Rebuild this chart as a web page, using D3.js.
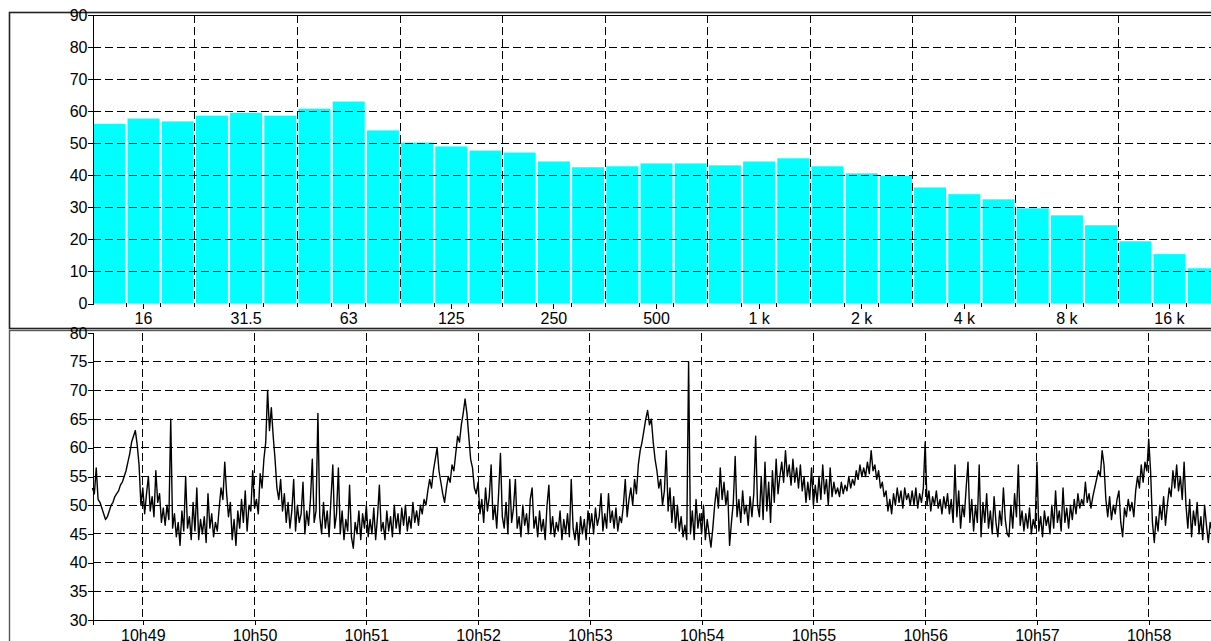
<!DOCTYPE html>
<meta charset="utf-8">
<script src="https://d3js.org/d3.v7.min.js"></script>
<style>
  body { margin: 0; background: #fff; }
  svg text { font-family: "Liberation Sans", Arial, sans-serif; }
</style>
<div id="my_dataviz"></div>
<script>

// third-octave bands (labels as printed on the axis)
var bands = ["12.5", "16", "20", "25", "31.5", "40", "50", "63", "80", "100", "125", "160",
             "200", "250", "315", "400", "500", "630", "800", "1 k", "1.25 k", "1.6 k", "2 k",
             "2.5 k", "3.15 k", "4 k", "5 k", "6.3 k", "8 k", "10 k", "12.5 k", "16 k", "20 k"];

// band levels (dB)
var bandLevels = [56, 57.7, 56.8, 58.6, 59.5, 58.6, 60.8, 63, 54, 50.2, 49, 47.7, 47.1,
                  44.3, 42.5, 42.8, 43.7, 43.7, 43.1, 44.3, 45.3, 42.8, 40.6, 39.8, 36.2,
                  34.1, 32.5, 29.7, 27.5, 24.4, 19.4, 15.4, 11];

var spectrumTicks = [0, 10, 20, 30, 40, 50, 60, 70, 80, 90];
var levelTicks = [30, 35, 40, 45, 50, 55, 60, 65, 70, 75, 80];

// time history, one value per second from 10:48:33
var timeStart = new Date(2000, 0, 1, 10, 48, 33);
var timeEnd = new Date(2000, 0, 1, 10, 58, 38);
var sampleStep = 1;
var levels = [
  53, 52, 56.5, 51, 50.5, 49.5, 48.5, 47.5, 48, 49, 50, 50.5, 51.5, 52, 52.5, 53.5, 54, 55, 56, 57.5,
  59, 61, 62, 63, 60.5, 57, 50, 53, 48.5, 52, 55, 49, 51.5, 48, 56, 50.5, 52, 47, 49.5, 46.5,
  50, 47.5, 65, 46, 48.5, 44.5, 47, 43, 49, 45.5, 55, 46, 48, 44, 50.5, 45.5, 53, 44, 47.5, 45,
  48, 43.5, 52, 46, 48.5, 44.5, 47, 45.5, 49.5, 53, 51, 57.5, 52, 48, 50.5, 44, 47.5, 43, 49, 46,
  51, 47, 52.5, 45.5, 50, 49, 56, 49.5, 51, 48.5, 55.5, 53, 58, 61, 70, 63, 67, 62, 58, 53,
  // 10h50m13
  51, 54.5, 49, 52, 47, 50.5, 46, 49, 54.5, 45.5, 50, 47, 48.5, 54, 45, 49, 46.5, 51, 58, 47,
  49, 66, 48, 45, 50.5, 46, 49, 44.5, 51, 57, 46, 48.5, 56.5, 45, 49, 44, 47.5, 45.5, 53.5, 44.5,
  42.5, 47, 45, 49, 44, 48.5, 46, 50, 44.5, 47.5, 45, 49.5, 44, 48, 53.5, 45.5, 47, 44, 49, 45.5,
  48, 44.5, 50, 46, 48.5, 45, 49.5, 46.5, 50, 45.5, 48, 46, 50.5, 47, 49, 46.5, 50, 48.5, 51, 50,
  52.5, 54.5, 53, 56, 58, 60, 56, 54, 52, 50.5, 53, 55, 54, 57, 56, 59, 62, 61, 64, 66,
  // 10h51m53
  68.5, 66, 62, 58, 56.5, 53, 52, 54, 48.5, 51, 47, 53, 49, 51.5, 57, 47.5, 50, 46, 52, 59,
  48, 46, 50.5, 45, 54.5, 47, 49.5, 54.5, 46, 48, 44.5, 50, 46.5, 48.5, 45, 51, 53, 46, 48, 44.5,
  49, 45.5, 47.5, 44, 50, 53.5, 45, 48, 44.5, 47, 45.5, 49, 44, 47.5, 45, 48.5, 44.5, 54.5, 46, 44,
  47, 43, 48, 45, 47.5, 44, 49, 46, 48.5, 45, 49.5, 46.5, 48, 52, 45.5, 48.5, 46, 52, 47, 49,
  46, 49.5, 45.5, 48, 47, 50, 54.5, 48, 51, 53, 50, 54.5, 52, 57, 59.5, 61, 63, 65, 66.5, 64,
  // 10h53m33
  65, 61, 58, 56, 53, 54.5, 50, 52.5, 59.5, 49, 53, 47, 51.5, 46, 50, 45.5, 48, 44.5, 46.5, 44,
  75, 45, 49, 44, 51, 46, 48.5, 45, 50, 44, 47.5, 45, 42.7, 46, 50, 53, 49.5, 56.5, 51, 54,
  50, 52.5, 43, 47, 50.5, 58.5, 48, 51, 47, 52.5, 48.5, 50, 46.5, 51.5, 48, 52, 62, 50, 48, 55,
  47.5, 57.5, 49, 54, 47, 56, 50.5, 58, 52, 55, 57.5, 54, 59.5, 55, 57, 53.5, 58, 54, 56.5, 53,
  57, 52.5, 55, 50.5, 54, 51, 56.5, 50, 53.5, 50.5, 55, 51, 57, 52, 54.5, 50, 56.5, 51.5, 54, 52,
  // 10h55m13
  53, 51.5, 54, 52, 53.5, 52.5, 55, 53, 54.5, 53.5, 56, 54.5, 57, 55, 56.5, 55, 57.5, 55.5, 59.5, 56,
  57, 54.5, 56, 53, 54, 51.5, 52.5, 49, 51, 48.5, 52, 50, 53, 50.5, 52.5, 49.5, 53, 51, 52, 50,
  52.5, 50, 53, 49.5, 52, 50.5, 53, 61, 50, 52.5, 49, 51.5, 50, 52.5, 49.5, 51, 48.5, 51.5, 49.5, 52,
  48.5, 51, 47, 57, 48, 52.5, 46, 50, 48, 53, 57.5, 47, 51, 45.5, 50, 47, 57, 44.5, 50.5, 47,
  52, 46, 49, 45, 51.5, 47, 44.5, 49, 46.5, 53, 47.5, 45, 44.5, 50, 46, 52, 48, 57, 46.5, 49,
  // 10h56m53
  45.5, 48.5, 46, 49.5, 45, 47.5, 46, 57.5, 45.5, 48, 44.5, 49, 46.5, 48, 45, 50, 46, 52.5, 47, 49,
  45.5, 53, 47, 49.5, 46, 50, 47.5, 51, 48.5, 52, 49.5, 51, 50, 54, 50.5, 52, 49.5, 51.5, 53, 54.5,
  56, 55, 59.5, 57, 51, 48, 51.5, 47.5, 50, 48.5, 51, 52.5, 47, 44.5, 49.5, 48, 51, 49, 50.5, 48,
  52.5, 55, 53, 57, 54, 57.5, 56, 61.5, 56, 47, 43.5, 48, 45.5, 50, 47.5, 51.5, 46.5, 50, 53, 51.5,
  56, 53, 57, 52.5, 55, 51, 57.5, 50, 46, 51, 44.5, 49, 46.5, 50.5, 45, 48, 44, 50, 46.5, 43.5,
  47, 45.5, 49, 44.5, 47.5, 45
];

var width = 1211, height = 641;
var plotLeft = 92.5, plotRight = 1219.5;

var svg = d3.select("#my_dataviz")
  .append("svg")
    .attr("width", width)
    .attr("height", height)
    .style("display", "block");

// panel frames
svg.append("rect")
  .attr("x", 9.5).attr("y", 12.5)
  .attr("width", 1300).attr("height", 316)
  .attr("fill", "none").attr("stroke", "#222").attr("stroke-width", 1.6);
svg.append("rect")
  .attr("x", 9.5).attr("y", 330.5)
  .attr("width", 1300).attr("height", 400)
  .attr("fill", "none").attr("stroke", "#555").attr("stroke-width", 1.4);

function dashed(sel) {
  sel.attr("stroke", "#000")
    .attr("stroke-width", 1)
    .attr("stroke-dasharray", "8,4")
    .attr("shape-rendering", "crispEdges");
}

// ---------- spectrum ----------
var x = d3.scaleBand()
  .domain(bands)
  .range([93.3, 1219.7])
  .paddingInner(0.064)
  .paddingOuter(0);

var y = d3.scaleLinear()
  .domain([0, 90])
  .range([303.5, 15]);

var gap = x.step() - x.bandwidth();
function boundary(k) { return x(bands[0]) + k * x.step() - gap / 2; }

svg.append("g")
  .selectAll("rect")
  .data(bandLevels)
  .join("rect")
    .attr("x", function (d, i) { return x(bands[i]); })
    .attr("y", function (d) { return y(d); })
    .attr("width", x.bandwidth())
    .attr("height", function (d) { return y(0) - y(d); })
    .attr("fill", "#00ffff");

// grid
svg.append("g")
  .selectAll("line")
  .data(spectrumTicks.filter(function (d) { return d > 0 && d < 90; }))
  .join("line")
    .attr("x1", plotLeft).attr("x2", plotRight)
    .attr("y1", function (d) { return y(d); })
    .attr("y2", function (d) { return y(d); })
    .call(dashed);

svg.append("g")
  .selectAll("line")
  .data(d3.range(3, 33, 3))
  .join("line")
    .attr("x1", function (k) { return boundary(k); })
    .attr("x2", function (k) { return boundary(k); })
    .attr("y1", y(90)).attr("y2", y(0))
    .call(dashed);

// small marks at each band edge
svg.append("g")
  .selectAll("line")
  .data(d3.range(1, 33))
  .join("line")
    .attr("x1", function (k) { return boundary(k); })
    .attr("x2", function (k) { return boundary(k); })
    .attr("y1", y(0) - 1).attr("y2", y(0) + 3)
    .attr("stroke", "#000")
    .attr("shape-rendering", "crispEdges");

// plot top border
svg.append("line")
  .attr("x1", plotLeft).attr("x2", 1300)
  .attr("y1", 15).attr("y2", 15)
  .attr("stroke", "#000").attr("shape-rendering", "crispEdges");

svg.append("g")
  .attr("transform", "translate(" + plotLeft + ",0)")
  .call(d3.axisLeft(y).tickValues(spectrumTicks).tickSize(5).tickPadding(0));

var xAxis = svg.append("g")
  .attr("transform", "translate(0," + y(0) + ")")
  .call(d3.axisBottom(x)
    .tickValues(bands.filter(function (b, i) { return i % 3 == 1; }))
    .tickSize(5).tickPadding(4));
xAxis.select(".domain").remove();

// ---------- time history ----------
var t = d3.scaleTime()
  .domain([timeStart, timeEnd])
  .range([plotLeft, plotRight]);

var v = d3.scaleLinear()
  .domain([30, 80])
  .range([620, 333]);

var minutes = t.ticks(d3.timeMinute.every(1));

svg.append("g")
  .selectAll("line")
  .data(levelTicks.filter(function (d) { return d > 30 && d < 80; }))
  .join("line")
    .attr("x1", plotLeft).attr("x2", plotRight)
    .attr("y1", function (d) { return v(d); })
    .attr("y2", function (d) { return v(d); })
    .call(dashed);

svg.append("g")
  .selectAll("line")
  .data(minutes)
  .join("line")
    .attr("x1", function (d) { return t(d); })
    .attr("x2", function (d) { return t(d); })
    .attr("y1", v(80)).attr("y2", v(30))
    .call(dashed);

var line = d3.line()
  .x(function (d, i) { return t(new Date(+timeStart + i * sampleStep * 1000)); })
  .y(function (d) { return v(d); });

svg.append("path")
  .datum(levels)
  .attr("d", line)
  .attr("fill", "none")
  .attr("stroke", "#000")
  .attr("stroke-width", 1.4)
  .attr("stroke-linejoin", "round");

svg.append("g")
  .attr("transform", "translate(" + plotLeft + ",0)")
  .call(d3.axisLeft(v).tickValues(levelTicks).tickSize(5).tickPadding(0));

svg.append("g")
  .attr("transform", "translate(0," + v(30) + ")")
  .call(d3.axisBottom(t)
    .tickValues(minutes)
    .tickFormat(d3.timeFormat("%Hh%M"))
    .tickSize(5).tickPadding(5));

svg.selectAll(".tick text")
  .attr("font-size", 16)
  .attr("fill", "#000");
svg.selectAll(".tick line, .domain")
  .attr("stroke", "#000")
  .attr("shape-rendering", "crispEdges");

</script>
